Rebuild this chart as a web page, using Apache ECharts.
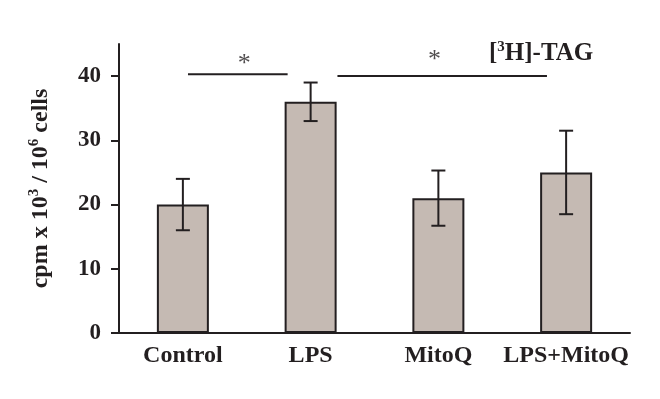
<!DOCTYPE html>
<html>
<head>
<meta charset="utf-8">
<script src="https://cdn.jsdelivr.net/npm/echarts@6/dist/echarts.min.js"></script>
<style>
  html, body { margin: 0; padding: 0; background: #fff; }
  #chart { width: 660px; height: 399px; }
</style>
</head>
<body>
<div id="chart"></div>
<script>
// data
var categories = ['Control', 'LPS', 'MitoQ', 'LPS+MitoQ'];
var means = [20, 36, 21, 25];
var errLow = [16, 33, 16.7, 18.5];
var errHigh = [24, 39, 25.3, 31.5];
var yTicks = [0, 10, 20, 30, 40];
// significance bars: from / to in category units, height in axis units
var sigFrom = [0.04, 1.21];
var sigTo = [0.82, 2.85];
var sigLevel = [40.3, 40.0];
var starX = [0.48, 1.97];
var starY = [41.8, 42.5];

var ink = '#231f20';
var serif = '"Liberation Serif", "DejaVu Serif", serif';

var errData = categories.map(function (c, i) { return [i, errLow[i], errHigh[i]]; });
var sigSeries = sigFrom.map(function (f, i) {
  return {
    type: 'line',
    xAxisIndex: 1,
    symbol: 'none',
    silent: true,
    lineStyle: { color: ink, width: 2 },
    data: [[f, sigLevel[i]], [sigTo[i], sigLevel[i]]]
  };
});

var chart = echarts.init(document.getElementById('chart'));
chart.setOption({
  animation: false,
  backgroundColor: '#fff',
  title: {
    text: '{a|[}{s|3}{a|H]-TAG}',
    left: 484,
    top: 35,
    textStyle: {
      rich: {
        a: { fontFamily: serif, fontWeight: 'bold', fontSize: 25, color: ink, lineHeight: 28 },
        s: { fontFamily: serif, fontWeight: 'bold', fontSize: 15, color: ink, verticalAlign: 'top', lineHeight: 28 }
      }
    }
  },
  grid: { left: 119, right: 30, top: 44, bottom: 66 },
  xAxis: [{
    type: 'category',
    data: categories,
    axisLine: { lineStyle: { color: ink, width: 2 } },
    axisTick: { show: false },
    axisLabel: { interval: 0, fontFamily: serif, fontWeight: 'bold', fontSize: 24, color: ink, margin: 11 }
  }, {
    type: 'value',
    min: -0.5,
    max: 3.5,
    show: false
  }],
  yAxis: {
    type: 'value',
    min: 0,
    max: 45,
    interval: 5,
    name: '{a|cpm x 10}{s|3}{a| / 10}{s|6}{a| cells}',
    nameLocation: 'middle',
    nameGap: 64,
    nameRotate: 90,
    nameTextStyle: {
      rich: {
        a: { fontFamily: serif, fontWeight: 'bold', fontSize: 24, color: ink, lineHeight: 28 },
        s: { fontFamily: serif, fontWeight: 'bold', fontSize: 15, color: ink, verticalAlign: 'top', lineHeight: 28 }
      }
    },
    axisLine: { show: true, onZero: false, lineStyle: { color: ink, width: 2 } },
    axisTick: { show: true, length: 8, lineStyle: { color: ink, width: 2 }, customValues: yTicks },
    axisLabel: { fontFamily: serif, fontWeight: 'bold', fontSize: 23, color: ink, margin: 18, customValues: yTicks },
    splitLine: { show: false }
  },
  series: [{
    type: 'bar',
    data: means,
    barWidth: 52,
    itemStyle: { color: '#c5bab3', borderColor: ink, borderWidth: 2 }
  }, {
    type: 'custom',
    data: errData,
    z: 5,
    renderItem: function (params, api) {
      var x = api.value(0);
      var lo = api.coord([x, api.value(1)]);
      var hi = api.coord([x, api.value(2)]);
      var w = 7;
      var st = { stroke: ink, lineWidth: 2 };
      return {
        type: 'group',
        children: [
          { type: 'line', shape: { x1: lo[0], y1: lo[1], x2: hi[0], y2: hi[1] }, style: st },
          { type: 'line', shape: { x1: lo[0] - w, y1: lo[1], x2: lo[0] + w, y2: lo[1] }, style: st },
          { type: 'line', shape: { x1: hi[0] - w, y1: hi[1], x2: hi[0] + w, y2: hi[1] }, style: st }
        ]
      };
    }
  }, {
    type: 'scatter',
    xAxisIndex: 1,
    symbolSize: 0,
    silent: true,
    data: starX.map(function (x, i) { return [x, starY[i]]; }),
    label: {
      show: true,
      position: 'inside',
      formatter: '*',
      fontFamily: serif,
      fontSize: 26,
      color: ink
    }
  }].concat(sigSeries)
});
</script>
</body>
</html>
